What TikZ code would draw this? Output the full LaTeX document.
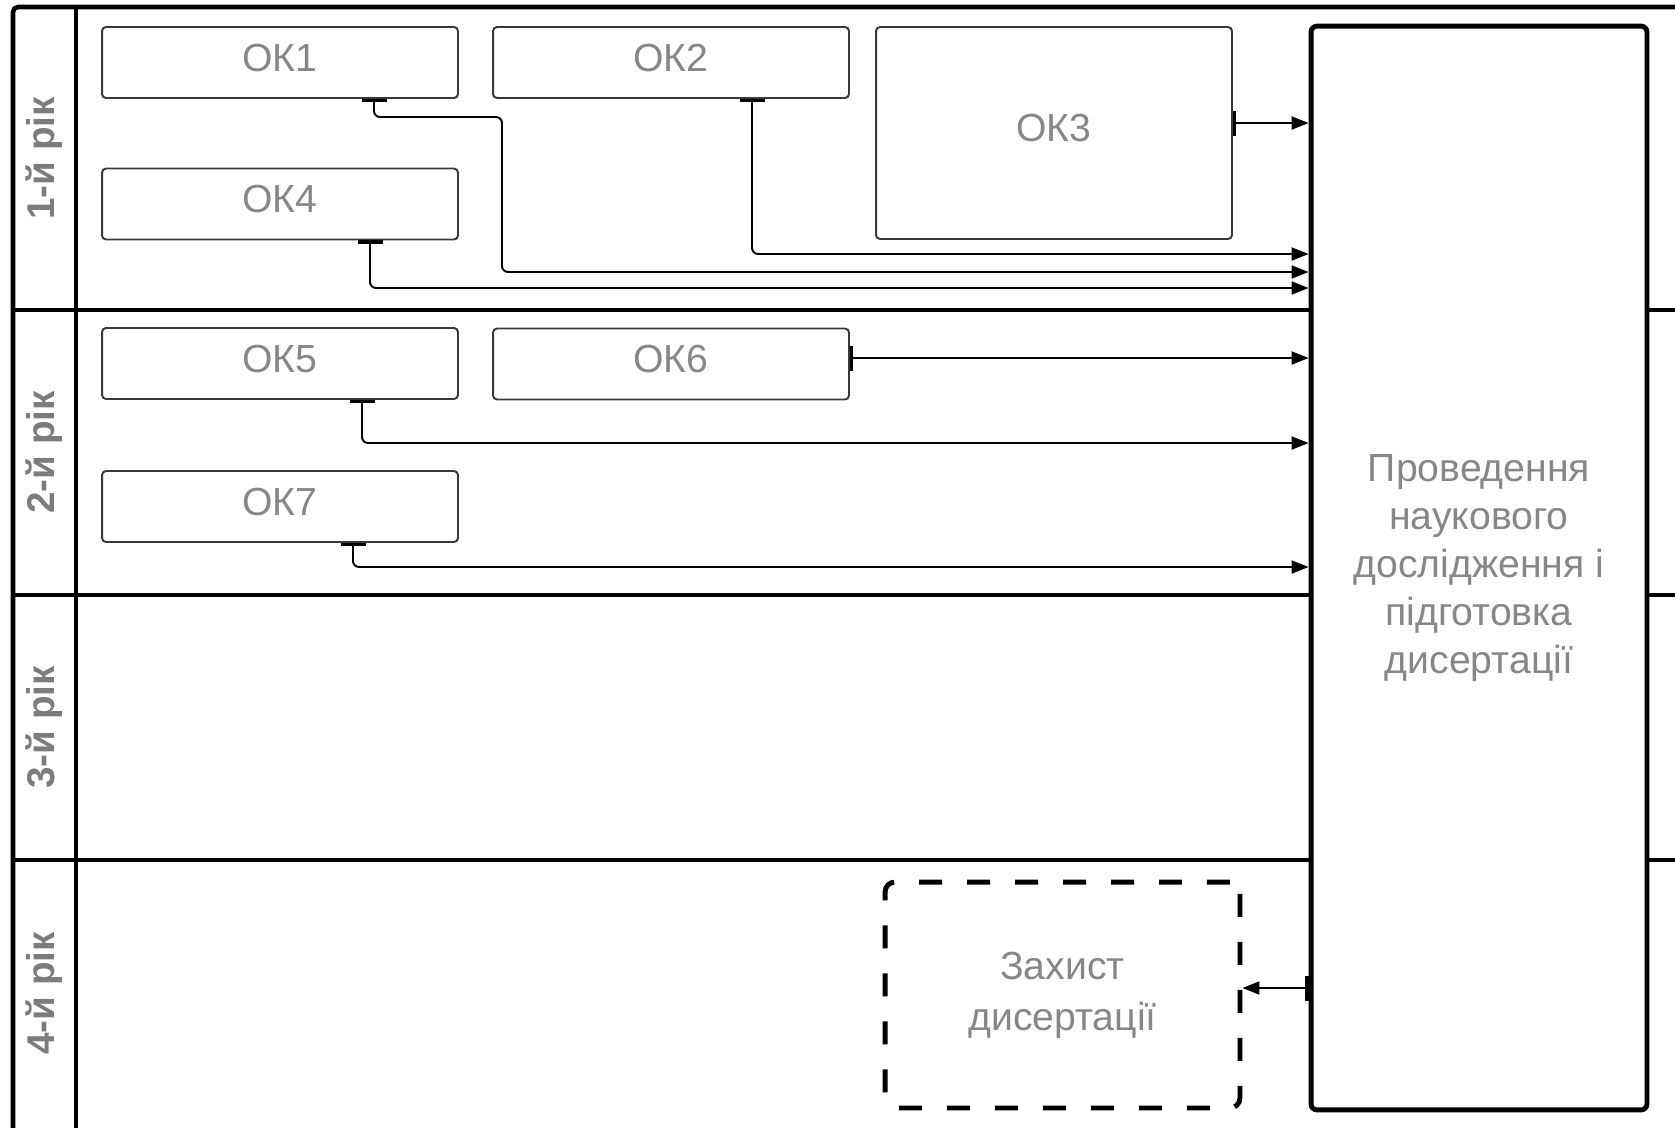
\documentclass[tikz,border=0pt]{standalone}
\usepackage{fontspec}
\setmainfont{Liberation Sans}
\usetikzlibrary{arrows.meta,positioning}
\definecolor{txtgray}{HTML}{878787}
\definecolor{yeargray}{HTML}{7c7c7c}
\definecolor{edgegray}{HTML}{383838}

\begin{document}
\begin{tikzpicture}[
    x=0.02cm, y=-0.02cm,
    course/.style={rectangle, draw=edgegray, line width=1.1pt, rounded corners=0.08cm, minimum width=7.12cm, minimum height=1.42cm, inner sep=0pt, text depth=0.2cm, text=txtgray, font=\fontsize{22.3}{27}\selectfont},
    result/.style={rectangle, draw, line width=2.8pt, rounded corners=0.12cm, fill=white, minimum width=6.72cm, minimum height=21.68cm, align=center, text=txtgray, font=\fontsize{22.3}{27.2}\selectfont},
    defence/.style={rectangle, draw, line width=2.8pt, dash pattern=on 0.46cm off 0.5cm, rounded corners=0.2cm, minimum width=7.1cm, minimum height=4.52cm, align=center, text=txtgray, font=\fontsize{22.3}{29}\selectfont},
    year/.style={rotate=90, text=yeargray, font=\fontsize{22}{26}\selectfont\bfseries},
    lane/.style={line width=2.6pt},
    flow/.style={line width=1.1pt, rounded corners=0.12cm, arrows={Bar[width=0.5cm,line width=2pt]-Triangle[length=0.34cm,width=0.26cm]}}
]
\useasboundingbox (0,0) rectangle (1675,1127);

% swimlanes
\draw[lane, rounded corners=0.1cm] (1700,7) -- (13,7) -- (13,1150);
\draw[lane] (76,7) -- (76,1150);
\foreach \y in {310,595,860}
    \draw[lane] (13,\y) -- (1700,\y);

\foreach \y/\t [count=\i] in {158.5/1-й рік, 452.5/2-й рік, 727.5/3-й рік, 993.5/4-й рік}
    \node[year] (yr\i) at (44.5,\y) {\t};

% courses
\node[course] (ok1) at (280,62.5) {ОК1};
\node[course] (ok2) at (671,62.5) {ОК2};
\node[course, minimum height=4.24cm] (ok3) at (1054,133) {ОК3};
\node[course] (ok4) at (280,204) {ОК4};
\node[course] (ok5) at (280,363.5) {ОК5};
\node[course] (ok6) at (671,364) {ОК6};
\node[course] (ok7) at (280,506.5) {ОК7};

\node[result] (res) at (1479,568) {Проведення\\наукового\\дослідження і\\підготовка\\дисертації};
\node[defence] (def) at (1062.5,995) {Захист\\дисертації};

% connectors
\draw[flow] (374,0 |- ok1.south) |- (502,117) |- (res.west |- 0,272);
\draw[flow] (752,0 |- ok2.south) |- (res.west |- 0,254);
\draw[flow] (ok3.east |- 0,123) -- (res.west |- 0,123);
\draw[flow] (370,0 |- ok4.south) |- (res.west |- 0,288);
\draw[flow] (362,0 |- ok5.south) |- (res.west |- 0,443);
\draw[flow] (ok6.east |- 0,358) -- (res.west |- 0,358);
\draw[flow] (353,0 |- ok7.south) |- (res.west |- 0,567);
\draw[flow] (res.west |- 0,988) -- (def.east |- 0,988);

\end{tikzpicture}
\end{document}
